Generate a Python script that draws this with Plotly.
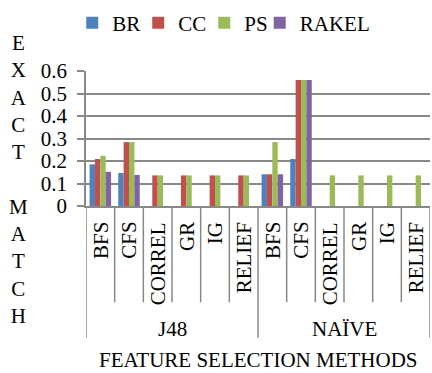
import plotly.graph_objects as go

groups = ["J48", "NAÏVE"]
methods = ["BFS", "CFS", "CORREL", "GR", "IG", "RELIEF"]
series_names = ["BR", "CC", "PS", "RAKEL"]
colors = ["#4F81BD", "#C0504D", "#9BBB59", "#8064A2"]

br = [0.185, 0.147, 0, 0, 0, 0, 0.141, 0.209, 0, 0, 0, 0]
cc = [0.209, 0.284, 0.136, 0.136, 0.136, 0.136, 0.141, 0.56, 0, 0, 0, 0]
ps = [0.223, 0.284, 0.136, 0.136, 0.136, 0.136, 0.284, 0.56, 0.136, 0.136, 0.136, 0.136]
rakel = [0.152, 0.138, 0, 0, 0, 0, 0.141, 0.56, 0, 0, 0, 0]
values = [br, cc, ps, rakel]

y_ticks = [0, 0.1, 0.2, 0.3, 0.4, 0.5, 0.6]
x_title = "FEATURE SELECTION METHODS"
y_title = "EXACT MATCH"

FONT = "Liberation Serif"
FS = 21
GRID = "#888888"

cats = [(g, m) for g in groups for m in methods]
xs = list(range(len(cats)))

fig = go.Figure()
for k, (name, col, vals) in enumerate(zip(series_names, colors, values)):
    fig.add_trace(go.Bar(x=xs, y=vals, name=name, marker=dict(color=col, line=dict(width=0)),
                         legend="legend2" if k == len(series_names) - 1 else "legend"))

shapes = []
annotations = []
n_per = len(methods)
for b in range(len(cats) + 1):
    is_group = (b % n_per == 0)
    shapes.append(dict(type="line", xref="x", yref="paper", x0=b - 0.5, x1=b - 0.5,
                       y0=0, y1=-0.976 if is_group else -0.713,
                       line=dict(color=GRID, width=1.5)))
for i, (g, m) in enumerate(cats):
    annotations.append(dict(x=i, y=-0.105, xref="x", yref="paper", text=m, textangle=-90,
                            showarrow=False, xanchor="center", yanchor="top",
                            font=dict(family=FONT, size=FS, color="black")))
for gi, g in enumerate(groups):
    annotations.append(dict(x=gi * n_per + (n_per - 1) / 2, y=-0.91, xref="x", yref="paper",
                            text=g, showarrow=False, xanchor="center", yanchor="middle",
                            font=dict(family=FONT, size=FS, color="black")))
annotations.append(dict(x=0.5, y=-1.14, xref="paper", yref="paper", text=x_title,
                        showarrow=False, xanchor="center", yanchor="middle",
                        font=dict(family=FONT, size=FS, color="black")))
annotations.append(dict(x=-0.195, y=0.198, xref="paper", yref="paper",
                        text="<br>".join(list(y_title)), showarrow=False,
                        xanchor="center", yanchor="middle", align="center",
                        font=dict(family=FONT, size=FS, color="black")))

legend_common = dict(orientation="h", yanchor="middle", y=1.355, xanchor="left",
                     font=dict(family=FONT, size=FS, color="black"),
                     bgcolor="rgba(0,0,0,0)", itemwidth=30, traceorder="normal")

fig.update_layout(
    width=432, height=373,
    margin=dict(l=86, r=2, t=65, b=167, pad=0),
    paper_bgcolor="white", plot_bgcolor="white",
    font=dict(family=FONT, size=FS, color="black"),
    barmode="group", bargap=0.25, bargroupgap=0,
    showlegend=True,
    legend=dict(x=-0.04, entrywidth=21, entrywidthmode="pixels", **legend_common),
    legend2=dict(x=0.505, **legend_common),
    xaxis=dict(range=[-0.5, len(cats) - 0.5], showticklabels=False, showgrid=False,
               zeroline=False, showline=True, linecolor=GRID, linewidth=1.5, ticks=""),
    yaxis=dict(range=[0, 0.6], tickvals=y_ticks, ticktext=[f"{v:g}" for v in y_ticks],
               showgrid=True, gridcolor=GRID, gridwidth=1.5, zeroline=False,
               showline=True, linecolor=GRID, linewidth=1.5,
               ticks="outside", ticklen=7, tickcolor=GRID, tickwidth=1.5,
               ticklabelstandoff=6,
               tickfont=dict(family=FONT, size=FS, color="black")),
    shapes=shapes, annotations=annotations,
)

fig.write_html("out.html")
